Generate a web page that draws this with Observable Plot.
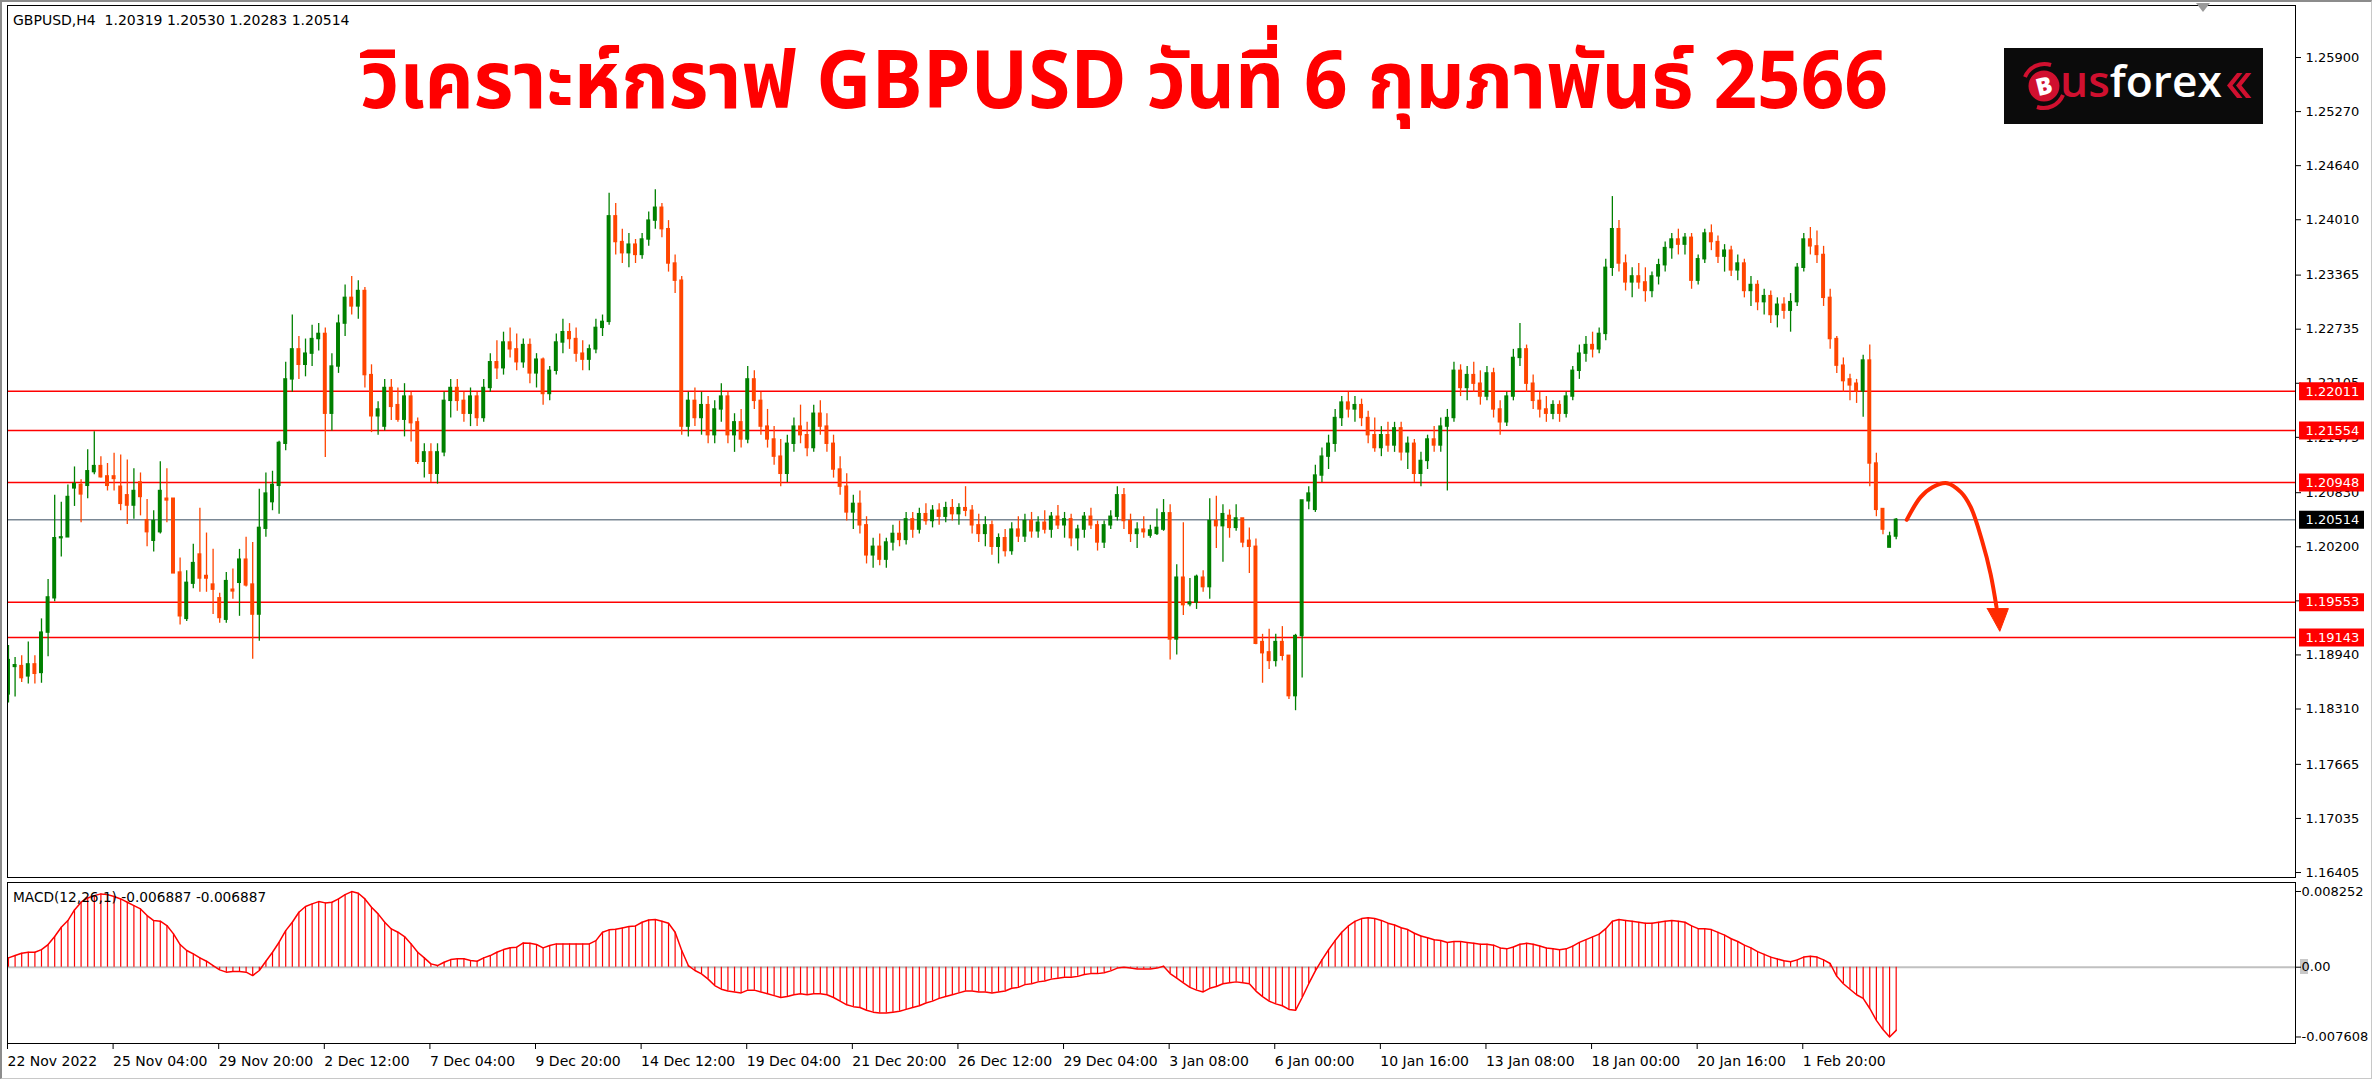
<!DOCTYPE html>
<html><head><meta charset="utf-8">
<script src="https://cdn.jsdelivr.net/npm/d3@7"></script>
<script src="https://cdn.jsdelivr.net/npm/@observablehq/plot@0.6"></script>
<style>
html,body{margin:0;padding:0;background:#fff;}
#root{position:relative;width:2374px;height:1080px;overflow:hidden;background:#fff;font-family:"DejaVu Sans",sans-serif;}
#root > *{position:absolute;}
.hdr{font-family:"DejaVu Sans",sans-serif;font-size:14px;line-height:16px;color:#000;white-space:pre;}
</style></head><body><div id="root"></div>
<script>
// ---------- DATA ----------
const symbolHeader = "GBPUSD,H4  1.20319 1.20530 1.20283 1.20514";
const macdHeader = "MACD(12,26,1) -0.006887 -0.006887";
const titleText = "วิเคราะห์กราฟ GBPUSD วันที่ 6 กุมภาพันธ์ 2566";

const opens = [
1.1848,1.1880,1.1881,1.1869,1.1883,1.1873,1.1920,1.1960,1.2030,1.2031,
1.2088,1.2092,1.2091,1.2107,1.2114,1.2102,1.2102,1.2090,1.2080,1.2068,
1.2095,1.2051,1.2027,1.2037,1.2076,1.2076,1.1990,1.1936,1.1977,1.2011,
1.1986,1.1976,1.1960,1.1935,1.1970,1.1978,1.2005,1.1976,1.1941,1.2041,
1.2072,1.2091,1.2140,1.2215,1.2250,1.2232,1.2245,1.2262,1.2268,1.2175,
1.2230,1.2280,1.2310,1.2300,1.2318,1.2220,1.2172,1.2160,1.2205,1.2185,
1.2168,1.2195,1.2165,1.2119,1.2130,1.2105,1.2130,1.2190,1.2205,1.2190,
1.2175,1.2195,1.2170,1.2205,1.2235,1.2228,1.2258,1.2250,1.2235,1.2255,
1.2222,1.2238,1.2198,1.2225,1.2258,1.2270,1.2262,1.2245,1.2238,1.2250,
1.2275,1.2282,1.2405,1.2375,1.2362,1.2372,1.2360,1.2378,1.2400,1.2415,
1.2390,1.2350,1.2330,1.2160,1.2190,1.2170,1.2185,1.2150,1.2180,1.2195,
1.2150,1.2165,1.2145,1.2215,1.2190,1.2160,1.2145,1.2125,1.2105,1.2140,
1.2160,1.2150,1.2135,1.2175,1.2160,1.2140,1.2110,1.2090,1.2060,1.2070,
1.2045,1.2010,1.2020,1.2005,1.2025,1.2035,1.2028,1.2052,1.2040,1.2058,
1.2050,1.2062,1.2055,1.2065,1.2058,1.2065,1.2062,1.2045,1.2035,1.2045,
1.2020,1.2030,1.2015,1.2040,1.2032,1.2050,1.2038,1.2048,1.2040,1.2055,
1.2045,1.2052,1.2030,1.2040,1.2055,1.2045,1.2025,1.2045,1.2055,1.2080,
1.2050,1.2035,1.2040,1.2033,1.2035,1.2040,1.2059,1.1912,1.1984,1.1953,
1.1955,1.1984,1.1973,1.2050,1.2044,1.2056,1.2042,1.2053,1.2027,1.2020,
1.1909,1.1897,1.1887,1.1909,1.1893,1.1846,1.1916,1.2073,1.2063,1.2103,
1.2125,1.2140,1.2170,1.2188,1.2180,1.2185,1.2170,1.2150,1.2135,1.2150,
1.2138,1.2158,1.2130,1.2140,1.2105,1.2120,1.2145,1.2138,1.2160,1.2170,
1.2225,1.2205,1.2220,1.2210,1.2195,1.2222,1.2180,1.2165,1.2195,1.2240,
1.2250,1.2210,1.2190,1.2180,1.2175,1.2185,1.2175,1.2195,1.2225,1.2245,
1.2255,1.2250,1.2268,1.2345,1.2390,1.2350,1.2328,1.2335,1.2328,1.2318,
1.2335,1.2348,1.2368,1.2378,1.2372,1.2380,1.2330,1.2355,1.2385,1.2375,
1.2358,1.2365,1.2342,1.2350,1.2318,1.2325,1.2305,1.2312,1.2290,1.2302,
1.2295,1.2305,1.2345,1.2378,1.2370,1.2360,1.2310,1.2262,1.2231,1.2215,
1.2210,1.2201,1.2237,1.2117,1.2064,1.2019,1.20319];

const highs = [
1.1905,1.1891,1.1893,1.1909,1.1893,1.1936,1.1982,1.2080,1.2072,1.2092,
1.2113,1.2098,1.2133,1.2154,1.2125,1.2117,1.2129,1.2127,1.2121,1.2111,
1.2106,1.2075,1.2062,1.2119,1.2111,1.2076,1.2007,1.1992,1.2023,1.2065,
1.2036,1.2017,1.1966,1.1990,1.1994,1.2017,1.2031,1.2025,1.2087,1.2106,
1.2108,1.2143,1.2235,1.2290,1.2265,1.2262,1.2278,1.2280,1.2275,1.2245,
1.2290,1.2325,1.2335,1.2330,1.2322,1.2232,1.2189,1.2215,1.2215,1.2205,
1.2210,1.2200,1.2170,1.2140,1.2140,1.2140,1.2200,1.2215,1.2215,1.2200,
1.2205,1.2200,1.2215,1.2245,1.2260,1.2270,1.2275,1.2268,1.2262,1.2262,
1.2245,1.2240,1.2230,1.2268,1.2285,1.2280,1.2275,1.2260,1.2255,1.2285,
1.2290,1.2432,1.2420,1.2390,1.2385,1.2378,1.2385,1.2410,1.2436,1.2420,
1.2400,1.2360,1.2335,1.2200,1.2205,1.2200,1.2195,1.2190,1.2210,1.2200,
1.2175,1.2180,1.2230,1.2225,1.2200,1.2180,1.2160,1.2145,1.2150,1.2170,
1.2185,1.2165,1.2185,1.2190,1.2175,1.2150,1.2125,1.2105,1.2080,1.2085,
1.2055,1.2030,1.2035,1.2030,1.2045,1.2050,1.2060,1.2060,1.2065,1.2070,
1.2068,1.2070,1.2072,1.2075,1.2070,1.2090,1.2068,1.2058,1.2055,1.2050,
1.2035,1.2040,1.2048,1.2055,1.2058,1.2060,1.2055,1.2062,1.2060,1.2068,
1.2060,1.2058,1.2045,1.2060,1.2065,1.2050,1.2050,1.2062,1.2090,1.2088,
1.2058,1.2048,1.2055,1.2045,1.2064,1.2075,1.2069,1.1999,1.2048,1.1983,
1.1987,1.1992,1.2076,1.2079,1.2069,1.2063,1.2069,1.2053,1.2042,1.2029,
1.1918,1.1924,1.1918,1.1927,1.1893,1.1918,1.2074,1.2090,1.2115,1.2135,
1.2150,1.2180,1.2195,1.2200,1.2195,1.2192,1.2178,1.2170,1.2160,1.2165,
1.2165,1.2165,1.2148,1.2145,1.2130,1.2150,1.2160,1.2170,1.2180,1.2235,
1.2232,1.2230,1.2235,1.2225,1.2230,1.2228,1.2190,1.2200,1.2250,1.2280,
1.2255,1.2220,1.2200,1.2195,1.2190,1.2190,1.2200,1.2230,1.2255,1.2265,
1.2270,1.2275,1.2355,1.2428,1.2400,1.2360,1.2345,1.2350,1.2345,1.2340,
1.2355,1.2375,1.2385,1.2390,1.2385,1.2385,1.2360,1.2390,1.2395,1.2382,
1.2372,1.2370,1.2360,1.2355,1.2335,1.2330,1.2320,1.2318,1.2310,1.2310,
1.2315,1.2350,1.2385,1.2392,1.2388,1.2370,1.2320,1.2265,1.2240,1.2221,
1.2215,1.2243,1.2255,1.2129,1.2064,1.2037,1.20530];

const lows = [
1.1838,1.1845,1.1862,1.1860,1.1860,1.1861,1.1892,1.1956,1.2008,1.2031,
1.2067,1.2048,1.2076,1.2104,1.2100,1.2085,1.2085,1.2062,1.2046,1.2052,
1.2056,1.2020,1.2014,1.2035,1.2048,1.1989,1.1929,1.1933,1.1971,1.1967,
1.1967,1.1941,1.1931,1.1931,1.1959,1.1939,1.1973,1.1889,1.1910,1.2031,
1.2062,1.2058,1.2132,1.2200,1.2215,1.2218,1.2230,1.2248,1.2124,1.2155,
1.2222,1.2265,1.2290,1.2285,1.2205,1.2153,1.2150,1.2155,1.2167,1.2165,
1.2148,1.2142,1.2116,1.2100,1.2095,1.2093,1.2125,1.2170,1.2178,1.2165,
1.2160,1.2160,1.2165,1.2200,1.2215,1.2220,1.2240,1.2225,1.2228,1.2210,
1.2205,1.2185,1.2190,1.2220,1.2245,1.2250,1.2235,1.2225,1.2225,1.2245,
1.2265,1.2278,1.2360,1.2350,1.2345,1.2350,1.2355,1.2370,1.2390,1.2380,
1.2340,1.2315,1.2150,1.2148,1.2160,1.2150,1.2140,1.2140,1.2165,1.2140,
1.2130,1.2135,1.2140,1.2180,1.2150,1.2135,1.2115,1.2090,1.2095,1.2130,
1.2140,1.2125,1.2130,1.2150,1.2130,1.2100,1.2080,1.2050,1.2040,1.2035,
1.2000,1.1995,1.1998,1.1995,1.2015,1.2020,1.2022,1.2030,1.2035,1.2045,
1.2042,1.2045,1.2048,1.2050,1.2045,1.2055,1.2035,1.2025,1.2020,1.2010,
1.2000,1.2008,1.2010,1.2025,1.2025,1.2030,1.2030,1.2035,1.2030,1.2040,
1.2030,1.2020,1.2015,1.2030,1.2040,1.2015,1.2018,1.2040,1.2050,1.2040,
1.2025,1.2018,1.2030,1.2030,1.2033,1.2038,1.1888,1.1894,1.1940,1.1950,
1.1947,1.1967,1.1959,1.2018,1.2002,1.2030,1.2038,1.2019,1.1989,1.1906,
1.1861,1.1877,1.1880,1.1887,1.1842,1.1829,1.1867,1.2063,1.2060,1.2095,
1.2110,1.2130,1.2160,1.2170,1.2165,1.2160,1.2140,1.2130,1.2125,1.2130,
1.2130,1.2120,1.2110,1.2095,1.2090,1.2110,1.2130,1.2130,1.2085,1.2165,
1.2195,1.2190,1.2200,1.2185,1.2190,1.2170,1.2150,1.2160,1.2190,1.2230,
1.2200,1.2180,1.2170,1.2165,1.2168,1.2165,1.2170,1.2190,1.2215,1.2235,
1.2240,1.2245,1.2260,1.2335,1.2340,1.2318,1.2310,1.2320,1.2305,1.2310,
1.2325,1.2340,1.2355,1.2360,1.2360,1.2320,1.2325,1.2350,1.2365,1.2350,
1.2340,1.2335,1.2330,1.2310,1.2300,1.2295,1.2290,1.2280,1.2275,1.2285,
1.2270,1.2300,1.2340,1.2360,1.2350,1.2300,1.2250,1.2222,1.2200,1.2190,
1.2187,1.2171,1.2090,1.2055,1.2034,1.2019,1.20283];

const closes = [
1.1888,1.1882,1.1867,1.1883,1.1872,1.1920,1.1961,1.2030,1.2031,1.2078,
1.2093,1.2081,1.2108,1.2114,1.2101,1.2091,1.2099,1.2070,1.2068,1.2085,
1.2078,1.2037,1.2050,1.2085,1.2074,1.1989,1.1939,1.1978,1.2001,1.1983,
1.1983,1.1970,1.1937,1.1980,1.1968,1.2005,1.1975,1.1941,1.2042,1.2082,
1.2092,1.2141,1.2215,1.2250,1.2232,1.2245,1.2262,1.2268,1.2175,1.2230,
1.2280,1.2310,1.2300,1.2318,1.2220,1.2172,1.2180,1.2205,1.2183,1.2168,
1.2195,1.2164,1.2119,1.2130,1.2105,1.2130,1.2190,1.2205,1.2190,1.2175,
1.2195,1.2170,1.2205,1.2235,1.2228,1.2258,1.2250,1.2235,1.2255,1.2222,
1.2238,1.2198,1.2225,1.2258,1.2270,1.2262,1.2245,1.2238,1.2250,1.2275,
1.2282,1.2405,1.2375,1.2362,1.2372,1.2360,1.2378,1.2400,1.2415,1.2390,
1.2350,1.2330,1.2160,1.2190,1.2170,1.2185,1.2150,1.2180,1.2195,1.2150,
1.2165,1.2145,1.2215,1.2190,1.2160,1.2145,1.2125,1.2105,1.2140,1.2160,
1.2150,1.2135,1.2175,1.2160,1.2140,1.2110,1.2090,1.2060,1.2070,1.2045,
1.2010,1.2020,1.2005,1.2025,1.2035,1.2028,1.2052,1.2040,1.2058,1.2050,
1.2062,1.2055,1.2065,1.2058,1.2065,1.2062,1.2045,1.2035,1.2045,1.2020,
1.2030,1.2015,1.2040,1.2032,1.2050,1.2038,1.2048,1.2040,1.2055,1.2045,
1.2052,1.2030,1.2040,1.2055,1.2045,1.2025,1.2045,1.2055,1.2080,1.2050,
1.2035,1.2040,1.2037,1.2039,1.2042,1.2059,1.1912,1.1984,1.1952,1.1955,
1.1985,1.1973,1.2050,1.2044,1.2058,1.2042,1.2053,1.2025,1.2020,1.1907,
1.1896,1.1887,1.1909,1.1893,1.1846,1.1916,1.2074,1.2082,1.2103,1.2125,
1.2140,1.2170,1.2188,1.2180,1.2185,1.2170,1.2150,1.2135,1.2150,1.2138,
1.2158,1.2130,1.2140,1.2105,1.2120,1.2145,1.2138,1.2160,1.2170,1.2225,
1.2205,1.2220,1.2210,1.2195,1.2222,1.2180,1.2165,1.2195,1.2240,1.2250,
1.2210,1.2190,1.2180,1.2175,1.2185,1.2175,1.2195,1.2225,1.2245,1.2255,
1.2250,1.2268,1.2345,1.2390,1.2350,1.2328,1.2335,1.2328,1.2318,1.2335,
1.2348,1.2368,1.2378,1.2372,1.2380,1.2330,1.2355,1.2385,1.2375,1.2358,
1.2365,1.2342,1.2350,1.2318,1.2325,1.2305,1.2312,1.2290,1.2302,1.2295,
1.2305,1.2345,1.2378,1.2370,1.2360,1.2310,1.2262,1.2231,1.2213,1.2208,
1.2201,1.2237,1.2117,1.2063,1.2040,1.2032,1.20514];

const macdValues = [
0.00102,0.00127,0.00152,0.00163,0.00163,0.00192,0.00247,0.00334,0.00436,0.00508,
0.00624,0.00708,0.00755,0.00780,0.00799,0.00791,0.00770,0.00744,0.00708,0.00672,
0.00635,0.00563,0.00508,0.00501,0.00454,0.00363,0.00247,0.00182,0.00145,0.00102,
0.00065,0.00018,-0.00029,-0.00054,-0.00047,-0.00047,-0.00054,-0.00091,-0.00036,0.00065,
0.00163,0.00272,0.00399,0.00490,0.00599,0.00661,0.00690,0.00715,0.00701,0.00708,
0.00744,0.00791,0.00824,0.00806,0.00744,0.00653,0.00581,0.00490,0.00417,0.00381,
0.00334,0.00254,0.00163,0.00102,0.00036,0.00018,0.00054,0.00083,0.00091,0.00091,
0.00073,0.00065,0.00102,0.00127,0.00163,0.00192,0.00211,0.00218,0.00265,0.00261,
0.00247,0.00211,0.00236,0.00254,0.00254,0.00254,0.00254,0.00254,0.00254,0.00290,
0.00381,0.00407,0.00414,0.00428,0.00443,0.00450,0.00490,0.00515,0.00519,0.00501,
0.00479,0.00381,0.00182,0.00018,-0.00036,-0.00073,-0.00130,-0.00200,-0.00240,-0.00260,
-0.00270,-0.00280,-0.00250,-0.00250,-0.00270,-0.00290,-0.00310,-0.00330,-0.00320,-0.00300,
-0.00290,-0.00300,-0.00290,-0.00290,-0.00300,-0.00330,-0.00370,-0.00410,-0.00430,-0.00440,
-0.00470,-0.00490,-0.00500,-0.00500,-0.00490,-0.00480,-0.00460,-0.00440,-0.00420,-0.00390,
-0.00370,-0.00340,-0.00320,-0.00300,-0.00280,-0.00260,-0.00260,-0.00270,-0.00270,-0.00280,
-0.00270,-0.00260,-0.00230,-0.00220,-0.00190,-0.00180,-0.00160,-0.00150,-0.00130,-0.00120,
-0.00110,-0.00110,-0.00100,-0.00080,-0.00070,-0.00070,-0.00060,-0.00040,-0.00010,0.00000,
-0.00010,-0.00020,-0.00020,-0.00020,-0.00010,0.00010,-0.00070,-0.00120,-0.00170,-0.00220,
-0.00250,-0.00270,-0.00230,-0.00210,-0.00180,-0.00170,-0.00160,-0.00170,-0.00180,-0.00260,
-0.00320,-0.00370,-0.00400,-0.00420,-0.00460,-0.00470,-0.00330,-0.00180,-0.00040,0.00080,
0.00190,0.00290,0.00380,0.00450,0.00500,0.00530,0.00540,0.00530,0.00510,0.00480,
0.00460,0.00430,0.00410,0.00370,0.00340,0.00320,0.00300,0.00290,0.00270,0.00280,
0.00280,0.00270,0.00260,0.00250,0.00250,0.00240,0.00210,0.00200,0.00220,0.00250,
0.00260,0.00250,0.00230,0.00210,0.00200,0.00190,0.00200,0.00230,0.00270,0.00300,
0.00330,0.00360,0.00420,0.00500,0.00520,0.00510,0.00500,0.00490,0.00480,0.00480,
0.00490,0.00500,0.00510,0.00500,0.00490,0.00450,0.00420,0.00420,0.00410,0.00380,
0.00350,0.00310,0.00280,0.00240,0.00210,0.00170,0.00140,0.00110,0.00090,0.00070,
0.00060,0.00080,0.00110,0.00120,0.00110,0.00080,0.00040,-0.00100,-0.00180,-0.00240,
-0.00300,-0.00340,-0.00450,-0.00580,-0.00680,-0.007608,-0.006887];

const dateTickBars = [0,16,32,48,64,80,96,112,128,144,160,176,192,208,224,240,256,272];
const dateTickLabels = ["22 Nov 2022","25 Nov 04:00","29 Nov 20:00","2 Dec 12:00","7 Dec 04:00","9 Dec 20:00","14 Dec 12:00","19 Dec 04:00","21 Dec 20:00","26 Dec 12:00","29 Dec 04:00","3 Jan 08:00","6 Jan 00:00","10 Jan 16:00","13 Jan 08:00","18 Jan 00:00","20 Jan 16:00","1 Feb 20:00"];
const priceTicks = [1.25900,1.25270,1.24640,1.24010,1.23365,1.22735,1.22105,1.21475,1.20830,1.20200,1.19570,1.18940,1.18310,1.17665,1.17035,1.16405];
const macdTicks = [0.008252, 0, -0.007608];
const levelPrices = [1.22011, 1.21554, 1.20948, 1.19553, 1.19143];
const currentPrice = 1.20514;
// annotation arrow (bar index, price)
const arrowBars   = [287.6, 289.7, 291.5, 293.7, 295.8, 297.3, 299.0, 300.3, 301.2];
const arrowPrices = [1.20514, 1.20778, 1.20894, 1.20941, 1.20836, 1.20661, 1.20273, 1.19885, 1.19496];
const headBars    = [299.8, 303.0, 301.7, 299.8];
const headPrices  = [1.19480, 1.19480, 1.19215, 1.19480];

// ---------- SCALES / LAYOUT ----------
const GREEN = "#008000", ORANGE = "#ff4500", RED = "#ff0000";
const xDomain = [-0.15, 346.5];
const priceDomain = [1.16347, 1.26506];
const macdDomain = [-0.008317, 0.009232];
const font = "DejaVu Sans, sans-serif";
const baseStyle = {fontFamily: font, fontSize: "13px", background: "transparent", overflow: "visible", maxWidth: "none", color: "#000"};

const bars = closes.map((c, i) => ({i, o: opens[i], h: highs[i], l: lows[i], c}));
const upBars = bars.filter(d => d.c >= d.o);
const downBars = bars.filter(d => d.c < d.o);
const arrow = arrowBars.map((x, k) => ({x, y: arrowPrices[k]}));
const head = headBars.map((x, k) => ({x, y: headPrices[k]}));
const macd = macdValues.map((v, i) => ({i, v}));
const dateLabel = new Map(dateTickBars.map((b, k) => [b, dateTickLabels[k]]));

function candleMarks(data, color) {
  return [
    Plot.ruleX(data, {x: "i", y1: "l", y2: "h", stroke: color, strokeWidth: 1.3, clip: true}),
    Plot.rect(data, {x1: d => d.i - 0.3, x2: d => d.i + 0.3, y1: d => Math.min(d.o, d.c), y2: d => Math.max(d.o, d.c),
      fill: color, insetTop: -0.7, insetBottom: -0.7, clip: true})
  ];
}

const root = document.getElementById("root");
function place(el, left, top) { el.style.position = "absolute"; el.style.left = left + "px"; el.style.top = top + "px"; root.appendChild(el); return el; }

// window borders
const border = document.createElement("div");
border.style.cssText = "width:2369px;height:1076px;border-top:2px solid #8c8c8c;border-left:2px solid #8c8c8c;border-right:1px solid #c8c8c8;border-bottom:1px solid #c8c8c8;";
place(border, 0, 0);

// price panel
const pricePlot = Plot.plot({
  width: 2374, height: 880,
  marginLeft: 7, marginRight: 79, marginTop: 5, marginBottom: 3,
  x: {domain: xDomain, axis: null},
  y: {domain: priceDomain, axis: null},
  style: baseStyle,
  marks: [
    Plot.axisY({anchor: "right", ticks: priceTicks, tickFormat: d => d.toFixed(5), tickSize: 5, tickPadding: 5, fontSize: 13, label: null}),
    Plot.ruleY(levelPrices, {stroke: RED, strokeWidth: 1.5}),
    Plot.ruleY([currentPrice], {stroke: "#7a8794", strokeWidth: 1.5}),
    ...candleMarks(upBars, GREEN),
    ...candleMarks(downBars, ORANGE),
    Plot.line(arrow, {x: "x", y: "y", curve: "catmull-rom", stroke: "#ff2a00", strokeWidth: 4, strokeLinecap: "round"}),
    Plot.line(head, {x: "x", y: "y", fill: "#ff2a00", stroke: "#ff2a00", strokeWidth: 1}),
    Plot.frame({stroke: "#000", strokeWidth: 1})
  ]
});
place(pricePlot, 0, 0);

// price labels for horizontal lines (boxes over the axis)
const boxPlot = Plot.plot({
  width: 65, height: 880, marginLeft: 0, marginRight: 0, marginTop: 5, marginBottom: 3,
  y: {domain: priceDomain, axis: null},
  style: baseStyle,
  marks: [
    Plot.ruleY(levelPrices, {stroke: RED, strokeWidth: 18}),
    Plot.ruleY([currentPrice], {stroke: "#000", strokeWidth: 18}),
    Plot.text([...levelPrices, currentPrice], {y: d => d, text: d => d.toFixed(5), frameAnchor: "left", textAnchor: "start", dx: 6, fill: "#fff", fontSize: 13})
  ]
});
place(boxPlot, 2299, 0);

// zero label highlight (MT4 style)
const hl = document.createElement("div");
hl.style.cssText = "width:8px;height:15px;background:#c8c8c8;";
place(hl, 2300, 959);

// MACD panel + time axis
const macdPlot = Plot.plot({
  width: 2374, height: 200,
  marginLeft: 7, marginRight: 79, marginTop: 2, marginBottom: 37,
  x: {domain: xDomain, axis: null},
  y: {domain: macdDomain, axis: null},
  style: baseStyle,
  marks: [
    Plot.ruleY([0], {stroke: "#c0c0c0", strokeWidth: 2}),
    Plot.ruleX(macd, {x: "i", y1: 0, y2: "v", stroke: RED, strokeWidth: 1.2, clip: true}),
    Plot.line(macd, {x: "i", y: "v", stroke: RED, strokeWidth: 1.5, clip: true}),
    Plot.axisY({anchor: "right", ticks: macdTicks, tickFormat: d => d === 0 ? "0.00" : d.toFixed(6), tickSize: 5, tickPadding: 1, fontSize: 13, label: null}),
    Plot.axisX({anchor: "bottom", ticks: dateTickBars, tickFormat: d => dateLabel.get(d), tickSize: 6, tickPadding: 7, textAnchor: "start", dx: -1, fontSize: 14, label: null}),
    Plot.frame({stroke: "#000", strokeWidth: 1})
  ]
});
place(macdPlot, 0, 880);

// headers
const h1 = document.createElement("div"); h1.className = "hdr"; h1.textContent = symbolHeader; place(h1, 13, 12);
const h2 = document.createElement("div"); h2.className = "hdr"; h2.style.fontSize = "13.7px"; h2.textContent = macdHeader; place(h2, 13, 889);

// chart-shift marker
const tri = document.createElement("div");
tri.style.cssText = "width:0;height:0;border-left:7px solid transparent;border-right:7px solid transparent;border-top:9px solid #9a9a9a;";
place(tri, 2196, 3);

// title
const NS = "http://www.w3.org/2000/svg";
const tsvg = document.createElementNS(NS, "svg");
tsvg.setAttribute("width", 2374); tsvg.setAttribute("height", 150);
const tt = document.createElementNS(NS, "text");
tt.setAttribute("x", 1124); tt.setAttribute("y", 108);
tt.setAttribute("text-anchor", "middle");
tt.setAttribute("font-family", "'Noto Sans Thai','Noto Sans Thai UI','Noto Looped Thai','Loma','Garuda','Tlwg Typo','Noto Sans',sans-serif");
tt.setAttribute("font-weight", "700");
tt.setAttribute("font-size", "80");
tt.setAttribute("fill", "#ff0000");
tt.setAttribute("textLength", "1528");
tt.setAttribute("lengthAdjust", "spacingAndGlyphs");
tt.textContent = titleText;
tsvg.appendChild(tt);
place(tsvg, 0, 0);

// logo
const lsvg = document.createElementNS(NS, "svg");
lsvg.setAttribute("width", 259); lsvg.setAttribute("height", 76);
lsvg.innerHTML = `
<rect x="0" y="0" width="259" height="76" fill="#0b0b0b"/>
<path d="M 21 29 A 21 21 0 0 1 47 17" fill="none" stroke="#d0102f" stroke-width="4"/>
<path d="M 59 47 A 21 21 0 0 1 33 59" fill="none" stroke="#d0102f" stroke-width="4"/>
<circle cx="40" cy="38" r="15.5" fill="#d0102f"/>
<text x="40" y="46.5" text-anchor="middle" font-family="Open Sans, DejaVu Sans, sans-serif" font-weight="800" font-size="24" fill="#fff" transform="rotate(-14 40 38)">B</text>
<text x="56" y="49" font-family="Open Sans, DejaVu Sans, sans-serif" font-weight="600" font-size="44" textLength="162" lengthAdjust="spacingAndGlyphs"><tspan fill="#d0102f">us</tspan><tspan fill="#ffffff">forex</tspan></text>
<polygon points="233,25 223,37.5 233,50 238.5,50 228.5,37.5 238.5,25" fill="#d0102f"/>
<polygon points="242,25 232,37.5 242,50 247.5,50 237.5,37.5 247.5,25" fill="#d0102f"/>`;
place(lsvg, 2004, 48);
</script></body></html>
